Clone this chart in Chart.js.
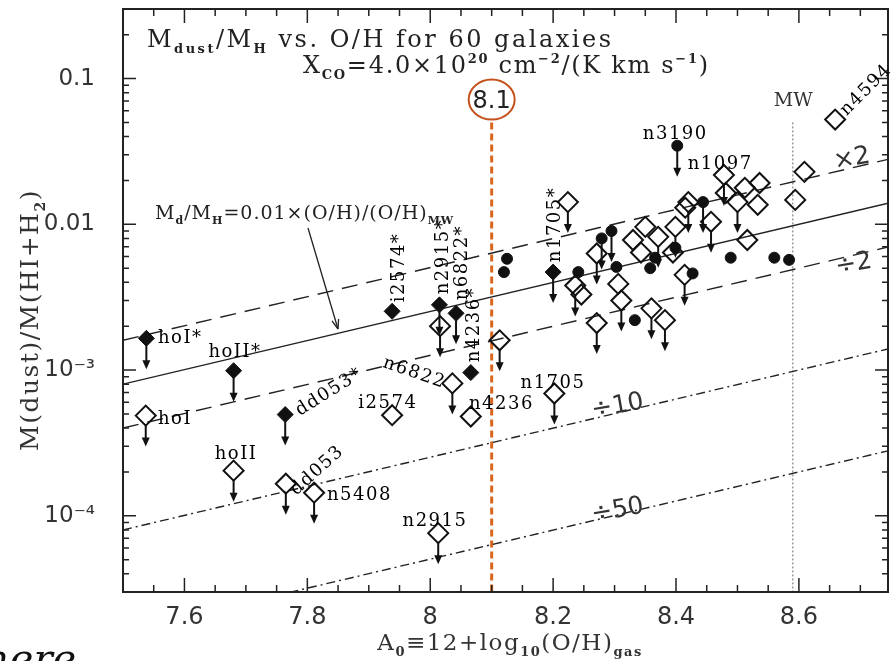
<!DOCTYPE html>
<html>
<head>
<meta charset="utf-8">
<script src="https://cdn.jsdelivr.net/npm/chart.js@4.4.1/dist/chart.umd.min.js"></script>
<style>
  html, body { margin: 0; padding: 0; background: #fff; overflow: hidden; }
  canvas { display: block; }
</style>
</head>
<body>
<canvas id="chart" width="892" height="661"></canvas>
<script>
// open diamonds (limit = 1 -> upper limit arrow)
const openX = [7.537, 7.680, 7.765, 7.811, 7.938, 8.013, 8.016, 8.036, 8.066, 8.113,
  8.202, 8.224, 8.236, 8.246, 8.271, 8.271, 8.306, 8.311, 8.330, 8.343,
  8.350, 8.360, 8.371, 8.382, 8.395, 8.399, 8.415, 8.420, 8.414, 8.457,
  8.478, 8.481, 8.500, 8.512, 8.516, 8.533, 8.536, 8.594, 8.609, 8.659];
const openY = [4.87e-4, 2.04e-4, 1.66e-4, 1.44e-4, 4.9e-4, 7.6e-5, 2.0e-3, 8.1e-4, 4.8e-4, 1.6e-3,
  6.9e-4, 0.0142, 3.8e-3, 3.3e-3, 6.3e-3, 2.1e-3, 3.9e-3, 3.0e-3, 7.8e-3, 6.4e-3,
  9.6e-3, 2.65e-3, 8.2e-3, 2.2e-3, 6.4e-3, 9.6e-3, 0.013, 0.0142, 4.5e-3, 0.0104,
  0.0218, 0.0164, 0.0142, 0.0178, 7.8e-3, 0.0136, 0.0192, 0.0147, 0.0229, 0.0523];
const openLimit = [1, 1, 1, 1, 0, 1, 1, 1, 0, 1,
  1, 1, 1, 0, 1, 1, 0, 1, 0, 0,
  0, 1, 1, 1, 0, 1, 0, 1, 1, 1,
  1, 0, 1, 0, 0, 0, 0, 0, 0, 0];

// filled diamonds
const fillX = [7.538, 7.680, 7.764, 7.938, 8.015, 8.042, 8.066, 8.200];
const fillY = [1.65e-3, 9.9e-4, 4.95e-4, 2.53e-3, 2.8e-3, 2.45e-3, 9.6e-4, 4.7e-3];
const fillLimit = [1, 1, 1, 0, 1, 1, 0, 1];

// filled circles
const dotX = [8.125, 8.120, 8.241, 8.402, 8.279, 8.295, 8.303, 8.333, 8.358, 8.366,
  8.399, 8.427, 8.444, 8.489, 8.560, 8.584];
const dotY = [5.8e-3, 4.7e-3, 4.7e-3, 0.0346, 8.0e-3, 9.0e-3, 5.1e-3, 2.2e-3, 5.0e-3, 5.9e-3,
  6.9e-3, 4.6e-3, 0.0142, 5.9e-3, 5.9e-3, 5.7e-3];
const dotLimit = [0, 0, 0, 1, 1, 1, 0, 0, 0, 0,
  0, 0, 1, 0, 0, 0];

// reference relations, read at the two plot edges
const relX = [7.5, 8.745];
const relSolid = [8.0e-4, 0.01396];
const relTimes2 = [1.6e-3, 0.0279];
const relHalf = [4.0e-4, 0.00698];
const relTenth = [8.0e-5, 0.001396];
const relFiftieth = [1.6e-5, 0.000279];

// vertical markers
const mwX = 8.59;
const cutX = 8.1;
const vTop = 0.05;

// axis ticks
const xTickVals = [7.6, 7.8, 8.0, 8.2, 8.4, 8.6];
const yTickVals = [1e-4, 1e-3, 0.01, 0.1];
const yTickText = ['10\u207B\u2074', '10\u207B\u00B3', '0.01', '0.1'];

// galaxy labels: text, x, y (data), angle, align
const labels = [
  ['hoI*', 7.557, 1.70e-3, 0, 'left'],
  ['hoII*', 7.639, 1.36e-3, 0, 'left'],
  ['hoI', 7.557, 4.72e-4, 0, 'left'],
  ['hoII', 7.684, 2.71e-4, 0, 'center'],
  ['dd053*', 7.782, 5.27e-4, -32, 'left'],
  ['dd053', 7.775, 1.48e-4, -42, 'left'],
  ['n5408', 7.832, 1.42e-4, 0, 'left'],
  ['i2574', 7.931, 6.08e-4, 0, 'center'],
  ['i2574*', 7.946, 2.92e-3, -90, 'left'],
  ['n2915*', 8.019, 3.31e-3, -90, 'left'],
  ['n6822*', 8.050, 3.01e-3, -90, 'left'],
  ['n4236*', 8.069, 1.13e-3, -90, 'left'],
  ['n6822', 7.925, 1.16e-3, 19, 'left'],
  ['n4236', 8.063, 5.98e-4, 0, 'left'],
  ['n1705', 8.147, 8.35e-4, 0, 'left'],
  ['n1705*', 8.200, 5.5e-3, -90, 'left'],
  ['n2915', 7.955, 9.5e-5, 0, 'left'],
  ['n3190', 8.346, 0.0425, 0, 'left'],
  ['n1097', 8.419, 0.0264, 0, 'left'],
  ['n4594', 8.670, 0.0593, -45, 'left']
];
const factorLabels = [
  ['\u00D72', 8.656, 0.0277],
  ['\u00F72', 8.659, 5.25e-3],
  ['\u00F710', 8.262, 5.45e-4],
  ['\u00F750', 8.262, 1.05e-4]
];

const pts = (xs, ys) => xs.map((x, i) => ({ x: x, y: ys[i] }));
const lineSet = (ys, dash) => ({
  type: 'line', data: pts(relX, ys), borderColor: '#222', borderWidth: 1.4,
  borderDash: dash, pointRadius: 0, fill: false, order: 5
});

const SERIF = '"DejaVu Serif", "Liberation Serif", serif';
const SANS = '"DejaVu Sans", "Liberation Sans", Arial, sans-serif';

// text with _{sub} and ^{sup}
function drawRich(ctx, str, x, y, size, family, align, angle, spacing) {
  const parts = [];
  const re = /([_^])\{([^}]*)\}|([^_^]+)/g;
  let m;
  while ((m = re.exec(str))) {
    if (m[3]) parts.push({ t: m[3], k: 0 });
    else parts.push({ t: m[2], k: m[1] === '_' ? 1 : 2 });
  }
  const font = p => (p.k ? 'bold ' + Math.round(size * 0.56) : size) + 'px ' + family;
  ctx.save();
  ctx.translate(x, y);
  ctx.rotate((angle || 0) * Math.PI / 180);
  ctx.letterSpacing = (spacing || 0) + 'px';
  let w = 0;
  parts.forEach(p => { ctx.font = font(p); p.w = ctx.measureText(p.t).width; w += p.w; });
  let cx = align === 'center' ? -w / 2 : (align === 'right' ? -w : 0);
  ctx.textBaseline = 'alphabetic';
  ctx.textAlign = 'left';
  const base = size * 0.36;
  parts.forEach(p => {
    ctx.font = font(p);
    const dy = p.k === 1 ? size * 0.26 : (p.k === 2 ? -size * 0.42 : 0);
    ctx.fillText(p.t, cx, base + dy);
    cx += p.w;
  });
  ctx.restore();
}

const decorations = {
  id: 'decorations',
  afterDatasetsDraw(chart) {
    const ctx = chart.ctx;
    // upper limit arrows
    ctx.save();
    ctx.strokeStyle = '#111';
    ctx.fillStyle = '#111';
    ctx.lineWidth = 2;
    chart.data.datasets.forEach((ds, i) => {
      if (!ds.limits) return;
      const meta = chart.getDatasetMeta(i);
      meta.data.forEach((p, j) => {
        if (!ds.limits[j]) return;
        const y0 = p.y + ds.pointRadius - 1, y1 = p.y + 31;
        ctx.beginPath();
        ctx.moveTo(p.x, y0);
        ctx.lineTo(p.x, y1 - 8);
        ctx.stroke();
        ctx.beginPath();
        ctx.moveTo(p.x - 4, y1 - 9);
        ctx.lineTo(p.x + 4, y1 - 9);
        ctx.lineTo(p.x, y1);
        ctx.closePath();
        ctx.fill();
      });
    });
    ctx.restore();
  },
  afterDraw(chart) {
    const ctx = chart.ctx;
    const a = chart.chartArea;
    const xs = chart.scales.x, ys = chart.scales.y;
    ctx.save();
    // frame
    ctx.strokeStyle = '#222';
    ctx.lineWidth = 2;
    ctx.strokeRect(a.left, a.top, a.right - a.left, a.bottom - a.top);
    // x ticks, every 0.05
    ctx.lineWidth = 1.5;
    ctx.beginPath();
    for (let i = 150; i <= 175; i++) {
      const v = i * 0.05;
      const px = xs.getPixelForValue(v);
      if (px < a.left + 1 || px > a.right - 1) continue;
      const len = i % 4 === 0 ? 14 : 7;
      ctx.moveTo(px, a.bottom); ctx.lineTo(px, a.bottom - len);
      ctx.moveTo(px, a.top); ctx.lineTo(px, a.top + len);
    }
    // y ticks, log
    for (let e = -5; e <= -1; e++) {
      for (let k = 1; k <= 9; k++) {
        const v = k * Math.pow(10, e);
        if (v < ys.min * 1.001 || v > ys.max * 0.999) continue;
        const py = ys.getPixelForValue(v);
        const len = k === 1 ? 13 : 6;
        ctx.moveTo(a.left, py); ctx.lineTo(a.left + len, py);
        ctx.moveTo(a.right, py); ctx.lineTo(a.right - len, py);
      }
    }
    ctx.stroke();

    // galaxy labels
    ctx.fillStyle = '#000';
    labels.forEach(l => {
      drawRich(ctx, l[0], xs.getPixelForValue(l[1]), ys.getPixelForValue(l[2]), 18, SERIF, l[4], l[3], 1.5);
    });
    ctx.fillStyle = '#333';
    factorLabels.forEach(l => {
      drawRich(ctx, l[0], xs.getPixelForValue(l[1]), ys.getPixelForValue(l[2]), 25, SANS, 'left', -10);
    });
    drawRich(ctx, 'MW', xs.getPixelForValue(8.559), ys.getPixelForValue(0.0717), 19, SERIF, 'left', 0);

    // cut marker 8.1 in a circle
    const cx = xs.getPixelForValue(cutX), cy = ys.getPixelForValue(0.0717);
    ctx.strokeStyle = '#C4521C';
    ctx.lineWidth = 2;
    ctx.beginPath();
    ctx.ellipse(cx, cy, 23, 20, 0, 0, Math.PI * 2);
    ctx.stroke();
    ctx.fillStyle = '#222';
    drawRich(ctx, '8.1', cx, cy, 24, SANS, 'center', 0);

    // titles
    ctx.fillStyle = '#222';
    drawRich(ctx, 'M_{dust}/M_{H} vs. O/H for 60 galaxies', 147, 38, 24, SERIF, 'left', 0, 2.5);
    drawRich(ctx, 'X_{CO}=4.0\u00D710^{20} cm^{\u22122}/(K km s^{\u22121})', 303, 64, 24, SERIF, 'left', 0, 1.7);

    // relation label + pointer
    drawRich(ctx, 'M_{d}/M_{H}=0.01\u00D7(O/H)/(O/H)_{MW}', 155, 212, 19, SERIF, 'left', 0, 1);
    ctx.strokeStyle = '#222';
    ctx.lineWidth = 1.3;
    const p0 = [308, 228], p1 = [338, 329];
    ctx.beginPath(); ctx.moveTo(p0[0], p0[1]); ctx.lineTo(p1[0], p1[1]); ctx.stroke();
    const ang = Math.atan2(p1[1] - p0[1], p1[0] - p0[0]);
    ctx.beginPath();
    ctx.moveTo(p1[0], p1[1]);
    ctx.lineTo(p1[0] - 10 * Math.cos(ang - 0.35), p1[1] - 10 * Math.sin(ang - 0.35));
    ctx.moveTo(p1[0], p1[1]);
    ctx.lineTo(p1[0] - 10 * Math.cos(ang + 0.35), p1[1] - 10 * Math.sin(ang + 0.35));
    ctx.stroke();

    // axis titles
    ctx.fillStyle = '#333';
    drawRich(ctx, 'A_{0}\u226112+log_{10}(O/H)_{gas}', 510, 642, 23, SERIF, 'center', 0, 1.5);
    drawRich(ctx, 'M(dust)/M(HI+H_{2})', 29, 320, 25, SERIF, 'center', -90, 1.5);

    // cropped slide text
    ctx.fillStyle = '#111';
    ctx.font = 'italic 40px "DejaVu Serif", serif';
    ctx.letterSpacing = '0px';
    ctx.textBaseline = 'alphabetic';
    ctx.fillText('here', -16, 672);
    ctx.restore();
  }
};

const noPad = s => { s.paddingLeft = 0; s.paddingRight = 0; s.paddingTop = 0; s.paddingBottom = 0; };

new Chart(document.getElementById('chart'), {
  type: 'scatter',
  data: {
    datasets: [
      lineSet(relSolid, []),
      lineSet(relTimes2, [16, 9]),
      lineSet(relHalf, [16, 9]),
      lineSet(relTenth, [9, 4, 2, 4]),
      lineSet(relFiftieth, [9, 4, 2, 4]),
      {
        type: 'line', data: pts([mwX, mwX], [vTop, 3e-5]), borderColor: '#9a9a9a',
        borderWidth: 1.5, borderDash: [2, 2], pointRadius: 0, order: 6
      },
      {
        type: 'line', data: pts([cutX, cutX], [vTop, 3e-5]), borderColor: '#D9661F',
        borderWidth: 3, borderDash: [7, 4], pointRadius: 0, order: 6
      },
      {
        label: 'open', data: pts(openX, openY), limits: openLimit,
        pointStyle: 'rectRot', pointRadius: 10, borderWidth: 2,
        borderColor: '#111', backgroundColor: 'rgba(0,0,0,0)', order: 2
      },
      {
        label: 'filled', data: pts(fillX, fillY), limits: fillLimit,
        pointStyle: 'rectRot', pointRadius: 8, borderWidth: 1,
        borderColor: '#111', backgroundColor: '#111', order: 1
      },
      {
        label: 'dots', data: pts(dotX, dotY), limits: dotLimit,
        pointStyle: 'circle', pointRadius: 5.5, borderWidth: 1,
        borderColor: '#111', backgroundColor: '#111', order: 1
      }
    ]
  },
  options: {
    responsive: false,
    animation: false,
    devicePixelRatio: 1,
    layout: { autoPadding: false, padding: { top: 9, right: 4, left: 0, bottom: 0 } },
    plugins: { legend: { display: false }, tooltip: { enabled: false } },
    scales: {
      x: {
        type: 'linear', min: 7.5, max: 8.745,
        grid: { display: false }, border: { display: false },
        afterBuildTicks: s => { s.ticks = xTickVals.map(v => ({ value: v })); },
        afterFit: s => { s.height = 69; noPad(s); },
        ticks: {
          padding: 3, color: '#333', font: { family: SANS, size: 24 },
          maxRotation: 0, autoSkip: false,
          callback: v => (Math.abs(v - 8) < 1e-9 ? '8' : String(Math.round(v * 10) / 10))
        }
      },
      y: {
        type: 'logarithmic', min: 3e-5, max: 0.3,
        grid: { display: false }, border: { display: false },
        afterBuildTicks: s => { s.ticks = yTickVals.map(v => ({ value: v })); },
        afterFit: s => { s.width = 123; noPad(s); },
        ticks: {
          padding: 20, color: '#333', font: { family: SANS, size: 23 }, autoSkip: false,
          callback: (v) => yTickText[yTickVals.findIndex(t => Math.abs(t - v) / t < 1e-6)]
        }
      }
    }
  },
  plugins: [decorations]
});
</script>
</body>
</html>
